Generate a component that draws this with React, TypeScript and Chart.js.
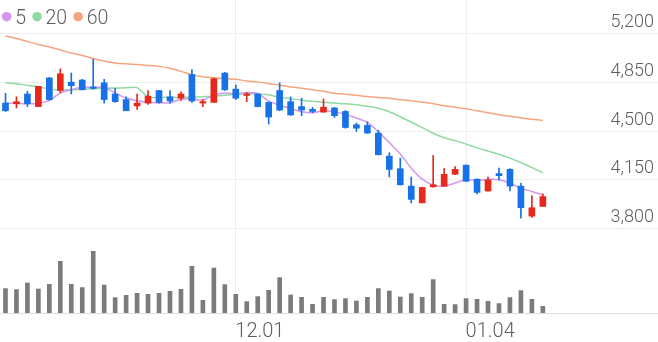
import React, { useEffect, useRef } from 'react';
import { Chart, registerables } from 'chart.js';

Chart.register(...registerables);

// ---- data ----
const categories = [
  '11.02', '11.03', '11.06', '11.07', '11.08', '11.09', '11.10', '11.13', '11.14', '11.15',
  '11.16', '11.17', '11.20', '11.21', '11.22', '11.23', '11.24', '11.27', '11.28', '11.29',
  '11.30', '12.01', '12.04', '12.05', '12.06', '12.07', '12.08', '12.11', '12.12', '12.13',
  '12.14', '12.15', '12.18', '12.19', '12.20', '12.21', '12.22', '12.26', '12.27', '12.28',
  '01.02', '01.03', '01.04', '01.05', '01.08', '01.09', '01.10', '01.11', '01.12', '01.15',
];
const emptySlots = 10;

const openP = [4700, 4695, 4765, 4675, 4880, 4790, 4850, 4865, 4815, 4845,
  4765, 4725, 4680, 4700, 4790, 4745, 4735, 4905, 4700, 4705,
  4915, 4800, 4755, 4765, 4705, 4790, 4710, 4675, 4655, 4635,
  4665, 4640, 4545, 4540, 4485, 4320, 4230, 4105, 3985, 4100,
  4105, 4190, 4255, 4155, 4070, 4195, 4225, 4105, 3890, 3960];
const closeP = [4645, 4710, 4695, 4820, 4725, 4910, 4825, 4795, 4805, 4725,
  4710, 4645, 4700, 4750, 4705, 4715, 4765, 4715, 4710, 4875,
  4795, 4735, 4765, 4675, 4600, 4650, 4615, 4650, 4640, 4670,
  4610, 4525, 4520, 4485, 4330, 4225, 4115, 4010, 4095, 4115,
  4190, 4225, 4140, 4060, 4150, 4180, 4105, 3950, 3950, 4030];
const highP = [4770, 4745, 4785, 4820, 4885, 4945, 4915, 4870, 5015, 4870,
  4805, 4745, 4765, 4790, 4792, 4790, 4780, 4940, 4725, 4880,
  4920, 4830, 4775, 4768, 4708, 4845, 4745, 4735, 4670, 4730,
  4668, 4647, 4557, 4565, 4505, 4345, 4305, 4170, 4097, 4325,
  4230, 4245, 4257, 4158, 4170, 4235, 4230, 4125, 4035, 4050];
const lowP = [4640, 4665, 4675, 4675, 4720, 4775, 4765, 4795, 4800, 4700,
  4705, 4645, 4655, 4690, 4700, 4700, 4720, 4705, 4675, 4705,
  4790, 4725, 4710, 4672, 4550, 4645, 4612, 4610, 4630, 4635,
  4597, 4520, 4497, 4483, 4328, 4170, 4112, 3985, 3985, 4098,
  4103, 4188, 4138, 4050, 4068, 4150, 4070, 3875, 3880, 3960];

const volume = [244000, 234000, 300000, 240000, 287000, 517000, 287000, 254000, 617000, 280000,
  154000, 177000, 197000, 187000, 197000, 217000, 237000, 467000, 127000, 450000,
  284000, 187000, 114000, 164000, 227000, 354000, 180000, 157000, 87000, 157000,
  134000, 144000, 120000, 157000, 244000, 220000, 160000, 194000, 157000, 334000,
  87000, 84000, 144000, 137000, 117000, 94000, 154000, 224000, 137000, 67000];

const ma5 = [4700, 4698, 4696, 4697, 4719, 4772, 4795, 4815, 4812, 4812,
  4772, 4736, 4717, 4706, 4702, 4703, 4727, 4730, 4722, 4756,
  4772, 4766, 4776, 4769, 4714, 4685, 4661, 4638, 4631, 4645,
  4637, 4619, 4593, 4562, 4494, 4417, 4335, 4233, 4155, 4112,
  4105, 4127, 4153, 4146, 4153, 4151, 4127, 4089, 4067, 4043];
const ma20 = [4847, 4838, 4827, 4816, 4800, 4796, 4795, 4799, 4802, 4806,
  4808, 4809, 4811, 4743, 4741, 4741, 4741, 4743, 4746, 4749,
  4756, 4763, 4766, 4766, 4759, 4741, 4731, 4720, 4713, 4706,
  4700, 4695, 4688, 4677, 4663, 4638, 4602, 4563, 4524, 4484,
  4452, 4431, 4406, 4379, 4356, 4334, 4306, 4274, 4238, 4200];
const ma60 = [5181, 5163, 5141, 5120, 5102, 5081, 5059, 5041, 5020, 5002,
  4988, 4981, 4976, 4970, 4963, 4949, 4927, 4902, 4888, 4881,
  4877, 4870, 4859, 4852, 4841, 4827, 4816, 4806, 4795, 4784,
  4771, 4763, 4756, 4747, 4740, 4734, 4724, 4716, 4707, 4695,
  4681, 4670, 4659, 4645, 4631, 4616, 4606, 4595, 4584, 4576];

const priceTicks = [3800, 4150, 4500, 4850, 5200];
const xTickLabels = ['12.01', '01.04'];
const legendItems = ['5', '20', '60'];

// ---- styles ----
const UP = '#e6291a';
const DOWN = '#1672e6';
const VOL = '#7b7b7b';
const MA_COLORS = ['#d596ee', '#8fd9a2', '#f7a47e'];
const GRID = '#eeeeee';
const TEXT = '#5e5e5e';
const FONT = 'Roboto, "Noto Sans", sans-serif';

const allLabels = [...categories, ...Array.from({ length: emptySlots }, () => '')];

const overlayPlugin = {
  id: 'overlay',
  afterDraw(chart: any) {
    const ctx = chart.ctx;
    const ys = chart.scales.y;
    const xs = chart.scales.x;
    const area = chart.chartArea;
    ctx.save();
    ctx.fillStyle = TEXT;
    ctx.textBaseline = 'alphabetic';
    // y labels
    ctx.font = `300 18px ${FONT}`;
    ctx.textAlign = 'right';
    priceTicks.forEach((v) => {
      const py = ys.getPixelForValue(v);
      ctx.fillText(v.toLocaleString('en-US'), area.right - 4, py - 6.5);
    });
    // x labels
    ctx.font = `300 20px ${FONT}`;
    ctx.textAlign = 'left';
    xTickLabels.forEach((lbl) => {
      const idx = categories.indexOf(lbl);
      const px = xs.getPixelForValue(idx);
      ctx.fillText(lbl, px - 0.5, area.bottom + 23.5);
    });
    // legend
    ctx.font = `300 19.5px ${FONT}`;
    let cx = 6.7;
    legendItems.forEach((t, i) => {
      ctx.fillStyle = MA_COLORS[i];
      ctx.beginPath();
      ctx.arc(cx, 16.7, 4.8, 0, Math.PI * 2);
      ctx.fill();
      ctx.fillStyle = TEXT;
      const tx = cx + 8.5;
      ctx.fillText(t, tx, 23.5);
      cx = tx + ctx.measureText(t).width + 11;
    });
    ctx.restore();
  },
};

export default function App() {
  const ref = useRef<HTMLCanvasElement | null>(null);

  useEffect(() => {
    document.body.style.margin = '0';
    if (!ref.current) return;
    const candleColors = openP.map((o, i) => (closeP[i] >= o ? UP : DOWN));
    const chart = new Chart(ref.current, {
      type: 'bar',
      data: {
        labels: allLabels,
        datasets: [
          {
            type: 'line',
            label: '5',
            data: ma5,
            yAxisID: 'y',
            borderColor: MA_COLORS[0],
            borderWidth: 1.5,
            pointRadius: 0,
            tension: 0.3,
            fill: false,
            order: 5,
          } as any,
          {
            type: 'line',
            label: '20',
            data: ma20,
            yAxisID: 'y',
            borderColor: MA_COLORS[1],
            borderWidth: 1.5,
            pointRadius: 0,
            tension: 0.3,
            fill: false,
            order: 6,
          } as any,
          {
            type: 'line',
            label: '60',
            data: ma60,
            yAxisID: 'y',
            borderColor: MA_COLORS[2],
            borderWidth: 1.5,
            pointRadius: 0,
            tension: 0.3,
            fill: false,
            order: 7,
          } as any,
          {
            type: 'bar',
            label: 'wick',
            data: lowP.map((l, i) => [l, highP[i]]),
            yAxisID: 'y',
            backgroundColor: candleColors,
            barThickness: 1,
            grouped: false,
            borderWidth: 0,
            order: 2,
          } as any,
          {
            type: 'bar',
            label: 'body',
            data: openP.map((o, i) => [o, closeP[i]]),
            yAxisID: 'y',
            backgroundColor: candleColors,
            barThickness: 6,
            minBarLength: 1.5,
            grouped: false,
            borderWidth: 0,
            order: 1,
          } as any,
          {
            type: 'bar',
            label: 'volume',
            data: volume,
            yAxisID: 'yv',
            backgroundColor: VOL,
            barThickness: 4,
            grouped: false,
            borderWidth: 0,
            order: 3,
          } as any,
        ],
      },
      options: {
        responsive: false,
        animation: false,
        devicePixelRatio: 1,
        layout: { padding: { left: 0, right: 0, top: 0, bottom: 29 } },
        plugins: { legend: { display: false }, tooltip: { enabled: false } },
        scales: {
          x: {
            type: 'category',
            offset: true,
            grid: {
              offset: false,
              drawTicks: false,
              color: (c: any) =>
                xTickLabels.includes(allLabels[c.index]) ? GRID : 'rgba(0,0,0,0)',
            },
            ticks: { display: false, autoSkip: false },
            border: { display: true, color: '#dddddd' },
          },
          y: {
            type: 'linear',
            position: 'right',
            min: 3196,
            max: 5438.6,
            afterBuildTicks: (s: any) => {
              s.ticks = priceTicks.map((v) => ({ value: v }));
            },
            grid: { color: GRID, drawTicks: false },
            ticks: { display: false },
            border: { display: false },
          },
          yv: {
            type: 'linear',
            display: false,
            min: 0,
            max: 3130000,
          },
        },
      } as any,
      plugins: [overlayPlugin],
    });
    return () => chart.destroy();
  }, []);

  return (
    <div style={{ width: 658, height: 342, position: 'relative' }}>
      <canvas ref={ref} width={658} height={342} style={{ display: 'block' }} />
    </div>
  );
}
